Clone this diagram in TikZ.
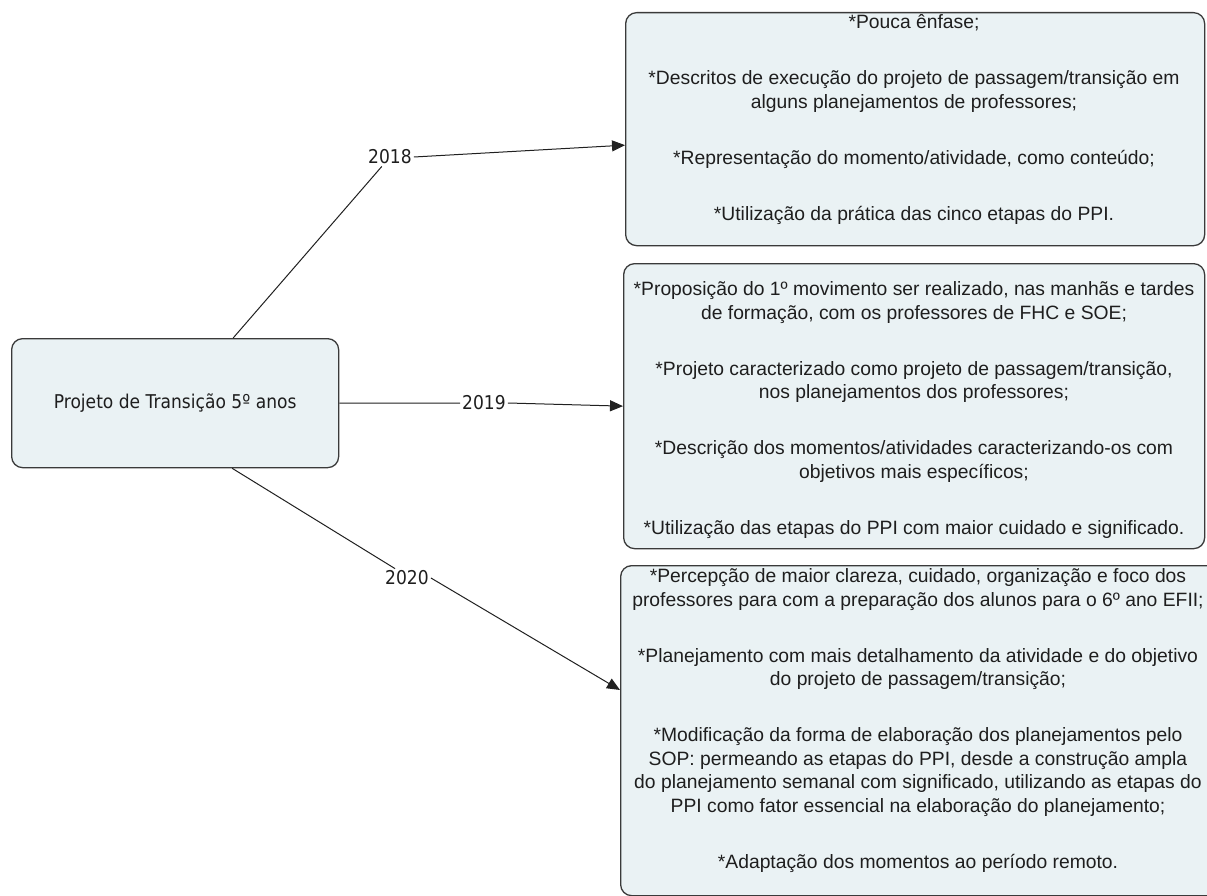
\documentclass[tikz,border=0pt]{standalone}
\usepackage{fontspec}
\setmainfont{Liberation Sans}
\newfontfamily\humanist[FakeStretch=0.9]{DejaVu Sans}
\usetikzlibrary{arrows.meta,calc}

\definecolor{boxfill}{HTML}{EAF2F4}
\definecolor{boxline}{HTML}{3A3A3A}
\definecolor{ink}{HTML}{1E1E1E}
\definecolor{linecol}{HTML}{202020}

\newcommand{\gap}{\\[32.5pt]}

\begin{document}
\begin{tikzpicture}[x=1pt,y=-1pt,
  box/.style={draw=boxline, fill=boxfill, line width=1.3pt, rounded corners=11pt, inner sep=0pt},
  note/.style={anchor=north, align=center, font=\fontsize{19.3}{23.5}\selectfont, text=ink, inner sep=0pt},
  rootlabel/.style={font=\humanist\fontsize{19}{22}\selectfont, text=ink},
  year/.style={font=\humanist\fontsize{19}{22}\selectfont, text=ink, inner sep=2pt},
  link/.style={draw=linecol, line width=1pt},
  arrowlink/.style={link, -{Triangle[length=13pt,width=11pt]}}]

\useasboundingbox (0,0) rectangle (1207,896);
\clip (0,0) rectangle (1207,896);

% central node
\node[box, anchor=north west, minimum width=327pt, minimum height=129pt] (root) at (11,338) {};
\node[rootlabel] (roottxt) at (root.center) {Projeto de Transição 5º anos};

% outcome boxes
\node[box, anchor=north west, minimum width=579pt, minimum height=233pt] (b18) at (625,12) {};
\node[box, anchor=north west, minimum width=581pt, minimum height=285pt] (b19) at (623,263) {};
\node[box, anchor=north west, minimum width=600pt, minimum height=330pt] (b20) at (620,565) {};

\node[note] (t18) at (914,14.5) {%
*Pouca ênfase;\gap
*Descritos de execução do projeto de passagem/transição em\\
alguns planejamentos de professores;\gap
*Representação do momento/atividade, como conteúdo;\gap
*Utilização da prática das cinco etapas do PPI.};

\node[note] (t19) at (914,281.5) {%
*Proposição do 1º movimento ser realizado, nas manhãs e tardes\\
de formação, com os professores de FHC e SOE;\gap
*Projeto caracterizado como projeto de passagem/transição,\\
nos planejamentos dos professores;\gap
*Descrição dos momentos/atividades caracterizando-os com\\
objetivos mais específicos;\gap
*Utilização das etapas do PPI com maior cuidado e significado.};

\node[note] (t20) at (918,568.5) {%
*Percepção de maior clareza, cuidado, organização e foco dos\\
professores para com a preparação dos alunos para o 6º ano EFII;\gap
*Planejamento com mais detalhamento da atividade e do objetivo\\
do projeto de passagem/transição;\gap
*Modificação da forma de elaboração dos planejamentos pelo\\
SOP: permeando as etapas do PPI, desde a construção ampla\\
do planejamento semanal com significado, utilizando as etapas do\\
PPI como fator essencial na elaboração do planejamento;\gap
*Adaptação dos momentos ao período remoto.};

% year labels
\node[year] (y18) at (390,157) {2018};
\node[year] (y19) at (484,403) {2019};
\node[year] (y20) at (407,578) {2020};

% connectors
\draw[link] ($(root.north)+(58,0)$) -- ($(y18.south west)!0.33!(y18.south east)$);
\draw[arrowlink] (y18.east) -- ($(b18.west)+(0,16)$);

\draw[link] (root.east) -- (y19.west);
\draw[arrowlink] (y19.east) -- (b19.west);

\draw[link] ($(root.south)+(57,0)$) -- ($(y20.north west)!0.25!(y20.north east)$);
\draw[arrowlink] (y20.east) -- ($(b20.north west)+(0,125)$);
\end{tikzpicture}
\end{document}
